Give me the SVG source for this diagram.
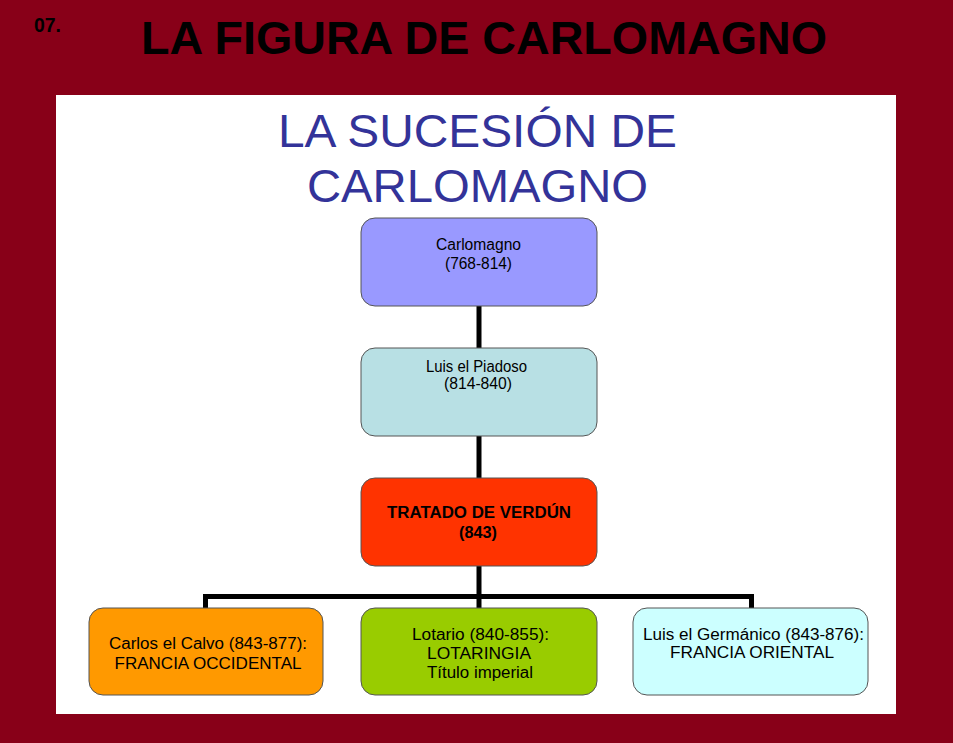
<svg xmlns="http://www.w3.org/2000/svg" width="953" height="743" viewBox="0 0 953 743">
<style>
.box{stroke:#555;stroke-width:1}
.t{font-family:"Liberation Sans",Arial,sans-serif;font-size:16px;fill:#000;text-anchor:middle}
.b{font-weight:bold}
.conn{stroke:#000;stroke-width:5;fill:none}
.sub{font-family:"Liberation Sans",Arial,sans-serif;font-size:47px;fill:#333399}
</style>
<rect x="0" y="0" width="953" height="743" fill="#880018"/>
<text x="34" y="32" font-family="Liberation Sans, Arial, sans-serif" font-weight="bold" font-size="20" fill="#000" textLength="27" lengthAdjust="spacingAndGlyphs">07.</text>
<text x="141" y="54" font-family="Liberation Sans, Arial, sans-serif" font-weight="bold" font-size="47" fill="#000" textLength="686" lengthAdjust="spacingAndGlyphs">LA FIGURA DE CARLOMAGNO</text>
<rect x="56" y="95" width="840" height="619" fill="#fff"/>
<text class="sub" x="278" y="147" textLength="399" lengthAdjust="spacingAndGlyphs">LA SUCESIÓN DE</text>
<text class="sub" x="307" y="202" textLength="341" lengthAdjust="spacingAndGlyphs">CARLOMAGNO</text>
<g id="connectors">
<line class="conn" x1="479" y1="305" x2="479" y2="348"/>
<line class="conn" x1="479" y1="436" x2="479" y2="478"/>
<line class="conn" x1="479" y1="566" x2="479" y2="608"/>
<polyline class="conn" points="205.5,608 205.5,596.5 751.5,596.5 751.5,608"/>
</g>
<g id="carlomagno">
<rect class="box" x="361" y="218" width="236" height="88" rx="14" fill="#9999ff"/>
<text class="t" x="478.5" y="250" textLength="85" lengthAdjust="spacingAndGlyphs">Carlomagno</text>
<text class="t" x="478.5" y="269" textLength="67" lengthAdjust="spacingAndGlyphs">(768-814)</text>
</g>
<g id="luis-piadoso">
<rect class="box" x="361" y="348" width="236" height="88" rx="14" fill="#b8e0e4"/>
<text class="t" x="476.5" y="372" textLength="101" lengthAdjust="spacingAndGlyphs">Luis el Piadoso</text>
<text class="t" x="478" y="389" textLength="68" lengthAdjust="spacingAndGlyphs">(814-840)</text>
</g>
<g id="tratado">
<rect class="box" x="361" y="478" width="236" height="88" rx="14" fill="#ff3300"/>
<text class="t b" x="479" y="518" textLength="184" lengthAdjust="spacingAndGlyphs">TRATADO DE VERDÚN</text>
<text class="t b" x="478" y="538" textLength="38" lengthAdjust="spacingAndGlyphs">(843)</text>
</g>
<g id="carlos-calvo">
<rect class="box" x="89" y="608" width="234" height="87" rx="14" fill="#ff9900"/>
<text class="t" x="208" y="649" textLength="198" lengthAdjust="spacingAndGlyphs">Carlos el Calvo (843-877):</text>
<text class="t" x="208" y="669" textLength="187" lengthAdjust="spacingAndGlyphs">FRANCIA OCCIDENTAL</text>
</g>
<g id="lotario">
<rect class="box" x="361" y="608" width="236" height="87" rx="14" fill="#99cc00"/>
<text class="t" x="480.5" y="639.5" textLength="137" lengthAdjust="spacingAndGlyphs">Lotario (840-855):</text>
<text class="t" x="479" y="658.5" textLength="104" lengthAdjust="spacingAndGlyphs">LOTARINGIA</text>
<text class="t" x="480" y="678" textLength="106" lengthAdjust="spacingAndGlyphs">Título imperial</text>
</g>
<g id="luis-germanico">
<rect class="box" x="633" y="608" width="235" height="87" rx="14" fill="#ccffff"/>
<text class="t" x="753.5" y="639.5" textLength="221" lengthAdjust="spacingAndGlyphs">Luis el Germánico (843-876):</text>
<text class="t" x="752" y="658" textLength="164" lengthAdjust="spacingAndGlyphs">FRANCIA ORIENTAL</text>
</g>
</svg>
